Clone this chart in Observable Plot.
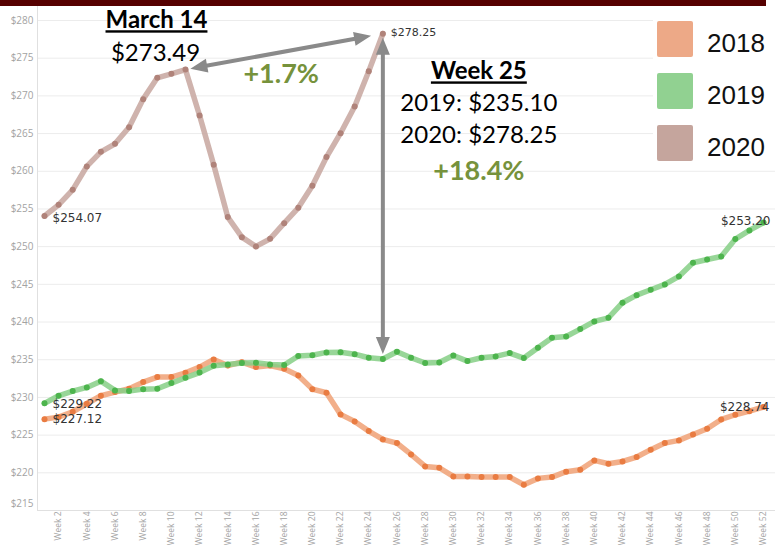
<!DOCTYPE html>
<html>
<head>
<meta charset="utf-8">
<script src="https://cdn.jsdelivr.net/npm/d3@7"></script>
<script src="https://cdn.jsdelivr.net/npm/@observablehq/plot@0.6"></script>
<style>
  body { margin: 0; background: #fff; }
  #wrap { position: relative; width: 775px; height: 545px; overflow: hidden; }
  #bar { position: absolute; left: 0; top: 0; width: 766px; height: 6px; background: #560000; }
  #legend { position: absolute; left: 653px; top: 10px; width: 122px; height: 158px; background: #fff;
            font-family: "Liberation Sans", Arial, sans-serif; }
  .sw { position: absolute; left: 4px; width: 36px; height: 36px; border-radius: 2px; }
  .lt { position: absolute; left: 54px; font-size: 26px; line-height: 26px; color: #111; }
</style>
</head>
<body>
<div id="wrap"><div id="bar"></div><div id="legend"></div></div>
<script>
// ---- data ----
const weeks = [1,2,3,4,5,6,7,8,9,10,11,12,13,14,15,16,17,18,19,20,21,22,23,24,25,26,
               27,28,29,30,31,32,33,34,35,36,37,38,39,40,41,42,43,44,45,46,47,48,49,50,51,52];
const years = ["2018", "2019", "2020"];
const price2018 = [227.12,227.39,228.10,229.16,230.22,230.71,231.15,232.03,232.70,232.70,
                   233.27,234.02,235.04,234.24,234.68,234.02,234.24,233.80,232.92,231.10,
                   230.62,227.75,226.82,225.53,224.43,223.94,222.44,220.85,220.67,219.52,
                   219.52,219.43,219.43,219.43,218.42,219.26,219.43,220.15,220.41,221.64,
                   221.20,221.51,222.09,223.07,223.94,224.30,225.09,225.85,227.08,227.70,
                   228.18,228.74];
const price2019 = [229.22,230.22,230.84,231.33,232.16,230.93,230.84,231.10,231.15,231.90,
                   232.61,233.30,234.19,234.38,234.56,234.60,234.38,234.30,235.50,235.60,
                   235.97,236.00,235.74,235.26,235.10,236.06,235.26,234.56,234.64,235.57,
                   234.82,235.26,235.44,235.88,235.22,236.60,237.92,238.09,239.06,240.08,
                   240.56,242.56,243.57,244.28,244.99,246.05,247.87,248.30,248.70,251.00,
                   252.15,253.20];
const price2020 = [254.07,255.55,257.54,260.64,262.58,263.64,265.85,269.57,272.40,272.93,
                   273.49,267.40,260.86,253.92,251.26,250.03,251.04,253.12,255.15,258.07,
                   261.88,265.05,268.60,273.28,278.25];
const yTicks = [215,220,225,230,235,240,245,250,255,260,265,270,275,280];
const xTickWeeks = [2,4,6,8,10,12,14,16,18,20,22,24,26,28,30,32,34,36,38,40,42,44,46,48,50,52];
const peakWeek = 11;          // March 14, 2020
const peakLabel = "March 14";
const compareWeek = 25;

// ---- styles ----
const lineColor = {"2018": "#f0a176", "2019": "#86cf86", "2020": "#c7a69f"};
const dotColor  = {"2018": "#e97c42", "2019": "#4db44d", "2020": "#b0837a"};
const swatchColor = {"2018": "#eda987", "2019": "#91d191", "2020": "#c5a59d"};
const arrowGray = "#8a8a8a";
const noteGreen = "#76923c";

const series = {"2018": price2018, "2019": price2019, "2020": price2020};
const rows = years.flatMap(yr => series[yr].map((p, i) => ({week: weeks[i], price: p, year: yr})));

const xDomain = [1, 52], xRange = [44, 763];
const yDomain = [215, 280], yRange = [510, 20];
const xs = d3.scaleLinear(xDomain, xRange), ys = d3.scaleLinear(yDomain, yRange);

const fmt = d3.format("$.2f");
const pctFmt = d3.format("+.1%");

const peakPrice = price2020[peakWeek - 1];
const cmp2020 = price2020[compareWeek - 1];
const cmp2019 = price2019[compareWeek - 1];

// arrowhead symbol: tip sits `inset` px from the anchor point, pointing at angle (deg, clockwise from up)
function head(angle, inset, len = 17, half = 7) {
  const a = angle * Math.PI / 180, c = Math.cos(a), s = Math.sin(a);
  const pts = [[0, inset], [half, inset + len], [-half, inset + len]].map(([x, y]) => [x * c - y * s, x * s + y * c]);
  return {draw(ctx) { ctx.moveTo(...pts[0]); ctx.lineTo(...pts[1]); ctx.lineTo(...pts[2]); ctx.closePath(); }};
}
const dxp = xs(compareWeek) - xs(peakWeek), dyp = ys(cmp2020) - ys(peakPrice);
const L = Math.hypot(dxp, dyp);
const diagAngle = Math.atan2(dxp / L, -dyp / L) * 180 / Math.PI;

const annoFont = "Lato, 'Open Sans', sans-serif";
const labelFont = "'DejaVu Sans', sans-serif";

const marks = [
  Plot.gridY(yTicks.filter(t => t > 215), {stroke: "#ececec", strokeOpacity: 1}),
  Plot.ruleY([215], {stroke: "#e0e0e0"}),
  Plot.frame({anchor: "left", stroke: "#e0e0e0"}),
  Plot.axisY(yTicks.filter(t => t > 215), {tickSize: 0, tickPadding: 4, tickFormat: d => `$${d}`,
    fill: "#a3a3a3", fontSize: 10, label: null}),
  Plot.axisY([215], {tickSize: 0, tickPadding: 4, tickFormat: d => `$${d}`, fill: "#a3a3a3",
    fontSize: 10, label: null, dy: -7}),
  Plot.axisX(xTickWeeks, {tickSize: 0, tickPadding: 1, tickRotate: -90, textAnchor: "end",
    tickFormat: d => `Week ${d}`, fill: "#a3a3a3", fontSize: 8.5, label: null}),
];
for (const yr of years) {
  const d = rows.filter(r => r.year === yr);
  marks.push(Plot.line(d, {x: "week", y: "price", stroke: lineColor[yr], strokeWidth: 5.5, strokeOpacity: 0.85}));
  marks.push(Plot.dot(d, {x: "week", y: "price", r: 3, fill: dotColor[yr]}));
}
// endpoint value labels
const firstOf = yr => rows.filter(r => r.year === yr)[0];
const lastOf = yr => rows.filter(r => r.year === yr).slice(-1)[0];
const lblOpts = {x: "week", y: "price", text: d => fmt(d.price), fontFamily: labelFont, fill: "#333"};
marks.push(
  Plot.text([firstOf("2020")], {...lblOpts, textAnchor: "start", dx: 8, dy: 2, fontSize: 12}),
  Plot.text([firstOf("2019")], {...lblOpts, textAnchor: "start", dx: 8, dy: 1, fontSize: 12}),
  Plot.text([firstOf("2018")], {...lblOpts, textAnchor: "start", dx: 8, dy: 0, fontSize: 12}),
  Plot.text([lastOf("2020")], {...lblOpts, textAnchor: "start", dx: 8, dy: -1, fontSize: 11}),
  Plot.text([lastOf("2019")], {...lblOpts, textAnchor: "end", dx: 7, dy: -1, fontSize: 12}),
  Plot.text([lastOf("2018")], {...lblOpts, textAnchor: "end", dx: 6, dy: 0, fontSize: 12}),
);
// arrows
const diag = [{x1: peakWeek, y1: peakPrice, x2: compareWeek, y2: cmp2020}];
const vert = [{x1: compareWeek, y1: cmp2020, x2: compareWeek, y2: cmp2019}];
marks.push(
  Plot.arrow(diag, {x1: "x1", y1: "y1", x2: "x2", y2: "y2", stroke: arrowGray, strokeWidth: 4,
    headLength: 0, insetStart: 14, insetEnd: 24}),
  Plot.arrow(vert, {x1: "x1", y1: "y1", x2: "x2", y2: "y2", stroke: arrowGray, strokeWidth: 4,
    headLength: 0, insetStart: 15, insetEnd: 16}),
  Plot.dot([{week: peakWeek, price: peakPrice}], {x: "week", y: "price", r: 6, fill: arrowGray, stroke: "none",
    symbol: head(diagAngle + 180, 5)}),
  Plot.dot([{week: compareWeek, price: cmp2020}], {x: "week", y: "price", r: 6, fill: arrowGray, stroke: "none",
    symbol: head(diagAngle, 12)}),
  Plot.dot([{week: compareWeek, price: cmp2020}], {x: "week", y: "price", r: 6, fill: arrowGray, stroke: "none",
    symbol: head(0, 4)}),
  Plot.dot([{week: compareWeek, price: cmp2019}], {x: "week", y: "price", r: 6, fill: arrowGray, stroke: "none",
    symbol: head(180, 5)}),
);
// annotation text
const at = (w, p) => [{week: w, price: p}];
const tOpts = {x: "week", y: "price", textAnchor: "middle", fontFamily: annoFont, fill: "#000"};
marks.push(
  Plot.text(at(peakWeek, peakPrice), {...tOpts, text: () => peakLabel, fontWeight: "bold", fontSize: 24, dx: -29, dy: -49}),
  Plot.text(at(peakWeek, peakPrice), {...tOpts, text: () => fmt(peakPrice), fontSize: 24, dx: -30, dy: -16}),
  Plot.text(at((peakWeek + compareWeek) / 2, (peakPrice + cmp2020) / 2),
    {...tOpts, text: () => pctFmt(cmp2020 / peakPrice - 1), fontWeight: "bold", fontSize: 27, fill: noteGreen, dx: -3, dy: 23}),
  Plot.text(at(compareWeek, cmp2020), {...tOpts, text: () => `Week ${compareWeek}`, fontWeight: "bold", fontSize: 24, dx: 96, dy: 38}),
  Plot.text(at(compareWeek, cmp2020), {...tOpts, text: () => `2019: ${fmt(cmp2019)}`, fontSize: 24, dx: 96, dy: 70}),
  Plot.text(at(compareWeek, cmp2020), {...tOpts, text: () => `2020: ${fmt(cmp2020)}`, fontSize: 24, dx: 96, dy: 102}),
  Plot.text(at(compareWeek, cmp2020), {...tOpts, text: () => pctFmt(cmp2020 / cmp2019 - 1), fontWeight: "bold", fontSize: 27, fill: noteGreen, dx: 96, dy: 138}),
);

const chart = Plot.plot({
  width: 775, height: 545,
  marginLeft: 37, marginRight: 0, marginTop: 0, marginBottom: 35,
  x: {domain: xDomain, range: xRange, axis: null},
  y: {domain: yDomain, range: yRange, axis: null},
  style: {fontFamily: "'Open Sans', sans-serif", background: "transparent", overflow: "visible"},
  marks
});
chart.querySelectorAll("text").forEach(t => {
  if (t.textContent === peakLabel || t.textContent === `Week ${compareWeek}`) t.style.textDecoration = "underline";
});
const wrap = document.getElementById("wrap");
wrap.insertBefore(chart, wrap.firstChild);

// legend
const legend = document.getElementById("legend");
years.forEach((yr, i) => {
  const sw = document.createElement("div");
  sw.className = "sw"; sw.style.top = (11 + 52 * i) + "px"; sw.style.background = swatchColor[yr];
  const lt = document.createElement("div");
  lt.className = "lt"; lt.style.top = (20 + 52 * i) + "px"; lt.textContent = yr;
  legend.append(sw, lt);
});
</script>
</body>
</html>
